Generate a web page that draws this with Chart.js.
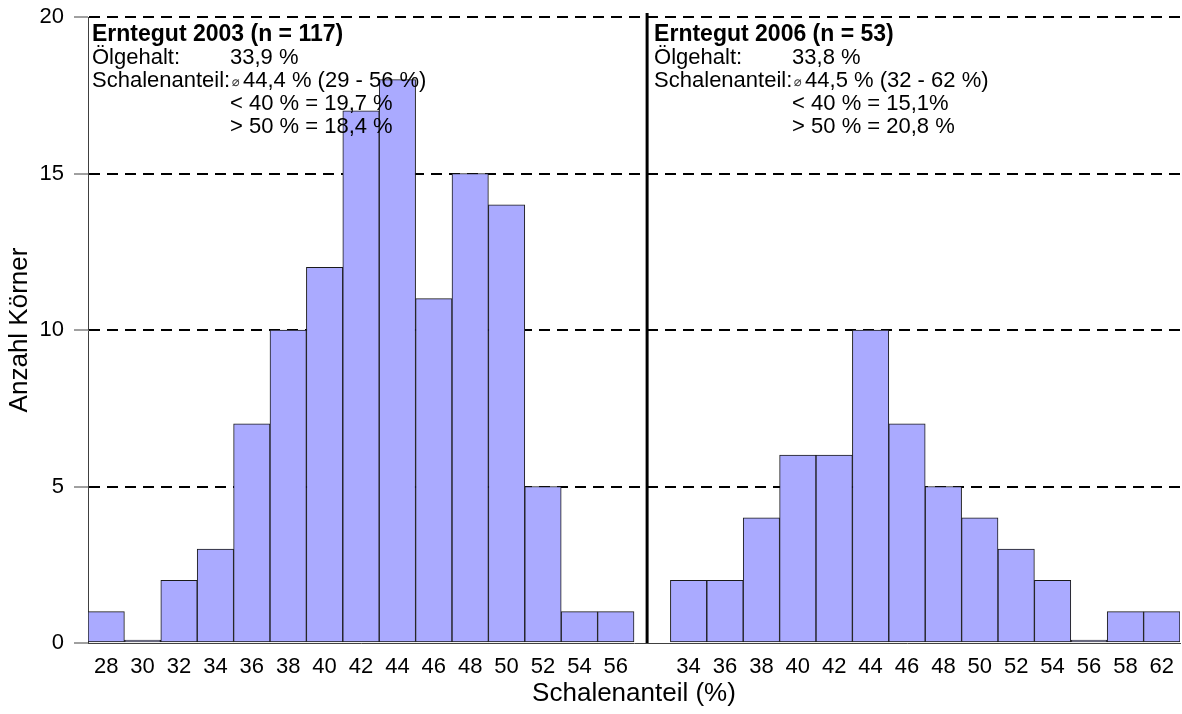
<!doctype html>
<html lang="de">
<head>
  <meta charset="utf-8">
  <title>Schalenanteil</title>
  <script src="https://cdn.jsdelivr.net/npm/chart.js@4.4.1/dist/chart.umd.min.js"></script>
  <style>
    html, body { margin: 0; padding: 0; background: #fff; }
    #wrap { width: 1182px; height: 714px; position: relative; }
  </style>
</head>
<body>
  <div id="wrap"><canvas id="chart"></canvas></div>
  <script>
    // Erntegut 2003
    const labels2003 = ['28', '30', '32', '34', '36', '38', '40', '42', '44', '46', '48', '50', '52', '54', '56'];
    const counts2003 = [1, 0, 2, 3, 7, 10, 12, 17, 18, 11, 15, 14, 5, 1, 1];
    // Erntegut 2006
    const labels2006 = ['34', '36', '38', '40', '42', '44', '46', '48', '50', '52', '54', '56', '58', '62'];
    const counts2006 = [2, 2, 4, 6, 6, 10, 7, 5, 4, 3, 2, 0, 1, 1];
    const yTicks = [0, 5, 10, 15, 20];

    const notes2003 = {
      title: 'Erntegut 2003 (n = 117)',
      rows: [['Ölgehalt:', '33,9 %'], ['Schalenanteil:', '44,4 % (29 - 56 %)', true], ['', '< 40 % = 19,7 %'], ['', '> 50 % = 18,4 %']]
    };
    const notes2006 = {
      title: 'Erntegut 2006 (n = 53)',
      rows: [['Ölgehalt:', '33,8 %'], ['Schalenanteil:', '44,5 % (32 - 62 %)', true], ['', '< 40 % = 15,1%'], ['', '> 50 % = 20,8 %']]
    };

    const FONT = '"Liberation Sans", Arial, sans-serif';
    const labels = [...labels2003, '', ...labels2006];
    const counts = [...counts2003, null, ...counts2006];

    // vertical divider + text blocks
    const panelsPlugin = {
      id: 'panels',
      afterDatasetsDraw(chart) {
        const { ctx, chartArea, scales } = chart;
        const x = scales.x;
        const divX = x.getPixelForValue(14.86);
        ctx.save();
        ctx.strokeStyle = '#000';
        ctx.lineWidth = 3;
        ctx.beginPath();
        ctx.moveTo(divX, chartArea.top - 4);
        ctx.lineTo(divX, chartArea.bottom);
        ctx.stroke();

        function block(notes, left) {
          let y = chartArea.top + 24;
          ctx.fillStyle = '#000';
          ctx.textBaseline = 'alphabetic';
          ctx.textAlign = 'left';
          ctx.font = 'bold 23px ' + FONT;
          ctx.fillText(notes.title, left, y);
          notes.rows.forEach(r => {
            y += 23;
            ctx.font = '22px ' + FONT;
            ctx.fillText(r[0], left, y);
            let vx = left + 138;
            if (r[2]) {
              ctx.font = '13px "DejaVu Sans", sans-serif';
              ctx.fillStyle = '#333';
              ctx.fillText('\u2300', vx + 2, y - 1);
              ctx.fillStyle = '#000';
              vx += 13;
              ctx.font = '22px ' + FONT;
            }
            ctx.fillText(r[1], vx, y);
          });
        }
        block(notes2003, chartArea.left + 4);
        block(notes2006, divX + 7);
        ctx.restore();
      }
    };

    new Chart(document.getElementById('chart'), {
      type: 'bar',
      data: {
        labels: labels,
        datasets: [{
          data: counts,
          backgroundColor: '#AAAAFF',
          borderColor: '#1a1a1a',
          borderWidth: 1,
          borderSkipped: false,
          minBarLength: 3,
          categoryPercentage: 1,
          barPercentage: 1
        }]
      },
      options: {
        responsive: true,
        maintainAspectRatio: false,
        animation: false,
        layout: { padding: { left: 0, top: 17, right: 2, bottom: 0 } },
        plugins: { legend: { display: false }, tooltip: { enabled: false } },
        scales: {
          x: {
            grid: { display: false },
            border: { display: true, color: '#404040', width: 1 },
            ticks: { color: '#000', font: { family: FONT, size: 22 }, padding: 3, autoSkip: false, maxRotation: 0 },
            title: { display: true, text: 'Schalenanteil (%)', color: '#000', font: { family: FONT, size: 26 }, padding: { top: 0, bottom: 5 } },
            afterFit(s) { s.height = 71; s.paddingLeft = 0; s.paddingRight = 0; }
          },
          y: {
            min: 0,
            max: 20,
            afterBuildTicks(s) { s.ticks = yTicks.map(v => ({ value: v })); },
            grid: {
              color: c => (c.tick && c.tick.value === 0 ? 'rgba(0,0,0,0)' : '#000'),
              lineWidth: 2,
              tickColor: '#404040',
              tickWidth: 1,
              tickLength: 14,
              tickBorderDash: []
            },
            border: { display: true, color: '#404040', width: 1, dash: [11, 7] },
            ticks: { color: '#000', font: { family: FONT, size: 22 }, padding: 10 },
            title: { display: true, text: 'Anzahl Körner', color: '#000', font: { family: FONT, size: 26 }, padding: { top: 4, bottom: 0 } },
            afterFit(s) { s.width = 88; s.paddingTop = 0; s.paddingBottom = 0; }
          }
        }
      },
      plugins: [panelsPlugin]
    });
  </script>
</body>
</html>
